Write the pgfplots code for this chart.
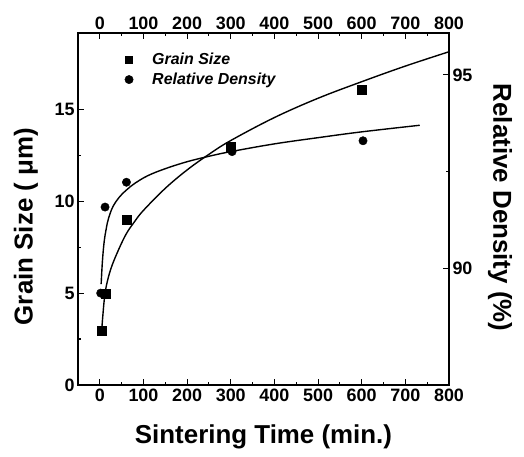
\documentclass[border=0pt]{standalone}
\usepackage{fontspec}
\setmainfont{Liberation Sans}
\usepackage{pgfplots}
\pgfplotsset{compat=1.18}

\begin{document}
\begin{tikzpicture}
\pgfplotsset{
  common/.style={
    scale only axis, width=371bp, height=352bp,
    xmin=-50, xmax=800,
    xtick={0,100,...,800}, minor x tick num=1,
    tick align=inside,
    major tick length=6bp, minor tick length=3bp,
    every tick/.style={black, line width=1.1pt},
    axis line style={line width=1.3pt},
    /pgf/number format/assume math mode=true,
    ticklabel style={font=\fontsize{18}{18}\selectfont\bfseries},
  }
}
% grain size, left axis
\begin{axis}[common,
    ymin=0, ymax=19.15,
    ytick={0,5,10,15}, minor y tick num=1,
    ytick pos=left, yticklabel pos=left,
    xticklabel pos=left,
    every axis x label/.style={at={(axis description cs:0.5,0)}, yshift=-52bp, anchor=center},
    every axis y label/.style={at={(axis description cs:0,0.45)}, xshift=-52bp, rotate=90, anchor=center},
    label style={font=\fontsize{26}{28}\selectfont\bfseries},
    xlabel={Sintering Time (min.)},
    ylabel={Grain Size ( μm)},
]
\addplot[black, line width=1.4pt, smooth, tension=0.6] coordinates {
  (5,3.2) (10,4.6) (15,5.4) (25,6.3) (40,7.2) (60,8.2) (80,8.9) (100,9.5)
  (150,10.7) (200,11.7) (250,12.55) (300,13.3) (400,14.55) (500,15.6)
  (600,16.5) (700,17.35) (800,18.13)
};
\addplot[only marks, mark=square*, mark size=4.5bp, black] coordinates {
  (5,2.95) (13,4.95) (61,9.0) (300,12.95) (600,16.04)
};
\end{axis}
% relative density, right axis
\begin{axis}[common,
    ymin=87, ymax=96.08,
    ytick={90,95}, minor y tick num=1,
    ytick pos=right, yticklabel pos=right,
    xticklabel pos=right,
    every axis y label/.style={at={(axis description cs:1,0.504)}, xshift=51bp, rotate=-90, anchor=center},
    label style={font=\fontsize{26}{28}\selectfont\bfseries},
    ylabel={Relative Density (\%)},
    legend style={at={(axis description cs:0.115,0.955)}, anchor=north west,
      draw=none, fill=none, font=\fontsize{16}{17}\selectfont\bfseries\itshape,
      row sep=3bp},
    legend cell align=left,
    legend image code/.code={\draw[#1] plot coordinates {(0bp,0bp)}; \path (-5bp,0bp) (21bp,0bp);},
]
\addlegendimage{only marks, mark=square*, mark size=3.5bp, black}
\addlegendentry{Grain Size}
\addplot[only marks, mark=*, mark size=4.2bp, black] coordinates {
  (2,89.37) (12,91.59) (61,92.23) (303,93.02) (603,93.3)
};
\addlegendentry{Relative Density}
\addplot[black, line width=1.4pt, smooth, tension=0.6, forget plot] coordinates {
  (3,89.6) (6,90.2) (10,90.7) (15,91.05) (20,91.3) (30,91.6) (45,91.85)
  (60,92.02) (80,92.2) (110,92.4) (150,92.58) (200,92.76) (250,92.9)
  (300,93.02) (400,93.22) (500,93.38) (600,93.53) (733,93.70)
};
\end{axis}
\path (-78bp,-72bp) rectangle (446bp,385bp);
\end{tikzpicture}
\end{document}
